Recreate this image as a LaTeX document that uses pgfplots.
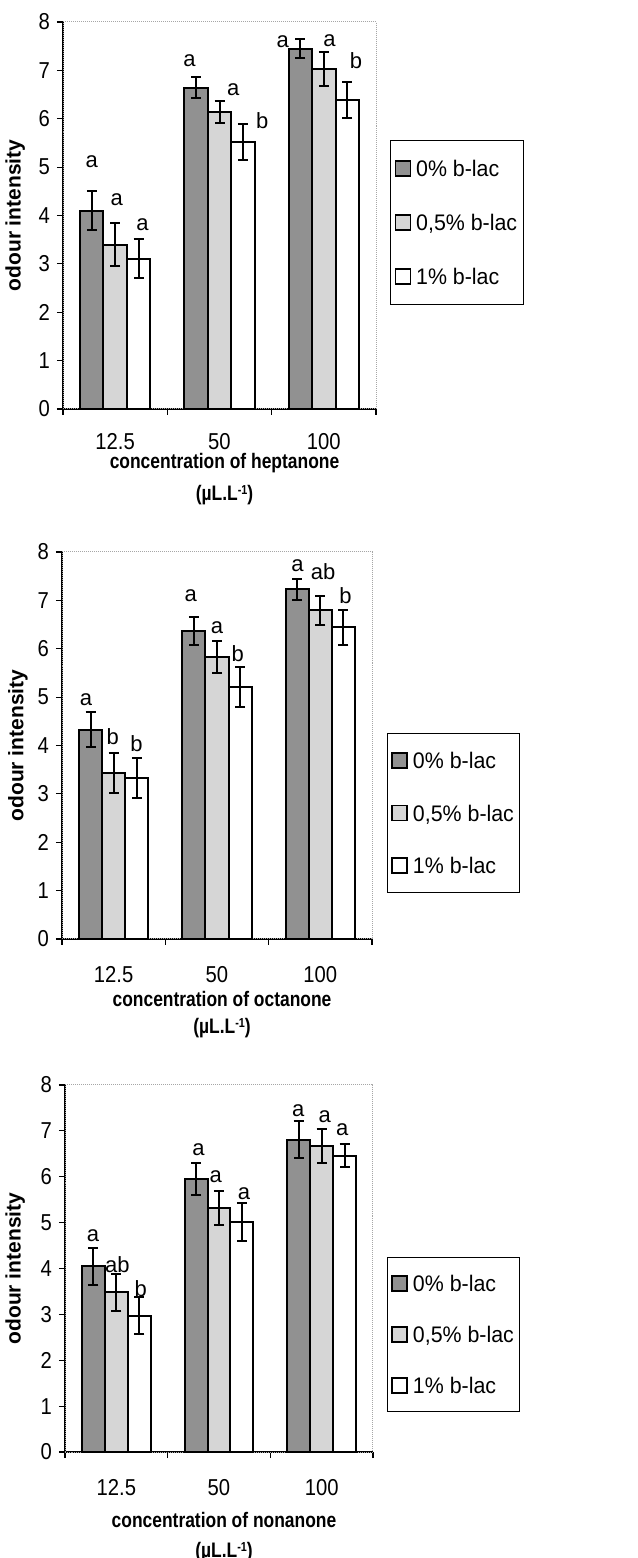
\documentclass[border=0pt]{standalone}
\usepackage{pgfplots}
\pgfplotsset{compat=1.18}
\usepackage{fontspec}
\setmainfont{Liberation Sans}
\newfontfamily\lsC[FakeStretch=0.88]{Liberation Sans}
\newfontfamily\lsX[FakeStretch=0.83]{Liberation Sans}
\newfontfamily\lsL[FakeStretch=0.95]{Liberation Sans}
\definecolor{darkbar}{gray}{0.57}
\definecolor{lightbar}{gray}{0.84}
\newcommand{\unitlab}{(µL.L\raisebox{0.55ex}{\fontsize{13bp}{13bp}\selectfont -1})}
\tikzset{letter/.style={font=\fontsize{22bp}{26bp}\selectfont, inner sep=0pt, anchor=center},
 plotframe/.style={gray!70, line width=1bp, densely dotted}}
\pgfplotsset{
 panel/.style={
  scale only axis, anchor=south west, clip=false,
  ybar, bar width=0.224,
  xmin=-0.5, xmax=2.5, ymin=0, ymax=8,
  ytick={0,1,...,8},
  xtick={-0.5,0.5,1.5,2.5}, xticklabels={},
  extra x ticks={0,1,2}, extra x tick labels={12.5,50,100},
  extra x tick style={major tick length=0pt},
  axis lines*=left,
  axis line style={black, line width=1.2bp},
  tick align=outside,
  major tick length=6bp,
  every tick/.style={black, line width=1.2bp},
  /pgf/number format/assume math mode=true,
  ticklabel style={font=\lsC\fontsize{23bp}{27bp}\selectfont, inner sep=0pt},
  xticklabel style={anchor=center, yshift=-36bp},
  yticklabel style={anchor=east, xshift=-7bp},
  ylabel={odour intensity},
  ylabel style={font=\bfseries\fontsize{21bp}{25bp}\selectfont, at={(axis description cs:-0.153,0.5)}, anchor=center},
  xlabel style={font=\lsX\bfseries\fontsize{21bp}{32bp}\selectfont, align=center, at={(axis description cs:0.5,0)}, anchor=center},
  legend cell align=left,
  legend style={anchor=north west, draw=black, line width=1bp, fill=white,
    font=\lsL\fontsize{22.5bp}{26bp}\selectfont,
    inner xsep=4bp, inner ysep=18bp, row sep=34bp,
    /tikz/every odd column/.append style={column sep=3bp},
    nodes={inner sep=2bp, text height=16bp, text depth=0bp}},
  legend image code/.code={\draw[#1,draw=black,line width=1.6bp] (0bp,-7.5bp) rectangle (15bp,7.5bp);},
 },
 errs/.style={error bars/.cd, y dir=both, y explicit,
   error bar style={line width=2bp, black},
   error mark options={rotate=90, mark size=5bp, line width=2bp, black}},
 s1/.style={fill=darkbar, draw=black, line width=2bp, bar shift=-0.224, errs},
 s2/.style={fill=lightbar, draw=black, line width=2bp, bar shift=0, errs},
 s3/.style={fill=white, draw=black, line width=2bp, bar shift=0.224, errs},
}
\begin{document}
\begin{tikzpicture}
\useasboundingbox (0bp,0bp) rectangle (638bp,1558bp);
% ---------- Panel 1: heptanone ----------
\begin{axis}[panel, at={(63bp,1149bp)}, width=313bp, height=387bp,
  xticklabel style={yshift=3bp},
  xlabel={concentration of heptanone\\\unitlab},
  xlabel style={yshift=-70bp, xshift=5bp},
  legend style={at={(axis description cs:1.045,0.695)}}]
\draw[plotframe] (rel axis cs:0,0) rectangle (rel axis cs:1,1);
\addplot[s1] coordinates {(0,4.10) +- (0,0.40) (1,6.64) +- (0,0.22) (2,7.45) +- (0,0.20)};
\addlegendentry{0\% b-lac}
\addplot[s2] coordinates {(0,3.40) +- (0,0.44) (1,6.14) +- (0,0.22) (2,7.03) +- (0,0.35)};
\addlegendentry{0,5\% b-lac}
\addplot[s3] coordinates {(0,3.11) +- (0,0.40) (1,5.52) +- (0,0.37) (2,6.39) +- (0,0.37)};
\addlegendentry{1\% b-lac}
\node[letter] at (axis cs:-0.224,5.11) {a};
\node[letter] at (axis cs:0.016,4.32) {a};
\node[letter] at (axis cs:0.263,3.80) {a};
\node[letter] at (axis cs:0.712,7.21) {a};
\node[letter] at (axis cs:1.131,6.60) {a};
\node[letter] at (axis cs:1.41,5.96) {b};
\node[letter] at (axis cs:1.606,7.59) {a};
\node[letter] at (axis cs:2.054,7.62) {a};
\node[letter] at (axis cs:2.308,7.21) {b};
\end{axis}
% ---------- Panel 2: octanone ----------
\begin{axis}[panel, at={(62bp,619bp)}, width=310bp, height=387bp,
  xlabel={concentration of octanone\\\unitlab},
  xlabel style={yshift=-76bp, xshift=5bp, font=\lsX\bfseries\fontsize{21bp}{27bp}\selectfont},
  ylabel style={at={(axis description cs:-0.142,0.5)}},
  legend style={at={(axis description cs:1.048,0.532)}, row sep=32.5bp, inner ysep=17bp}]
\draw[plotframe] (rel axis cs:0,0) rectangle (rel axis cs:1,1);
\addplot[s1] coordinates {(0,4.33) +- (0,0.37) (1,6.36) +- (0,0.29) (2,7.23) +- (0,0.22)};
\addlegendentry{0\% b-lac}
\addplot[s2] coordinates {(0,3.43) +- (0,0.42) (1,5.83) +- (0,0.33) (2,6.80) +- (0,0.30)};
\addlegendentry{0,5\% b-lac}
\addplot[s3] coordinates {(0,3.33) +- (0,0.42) (1,5.21) +- (0,0.42) (2,6.44) +- (0,0.37)};
\addlegendentry{1\% b-lac}
\node[letter] at (axis cs:-0.267,4.95) {a};
\node[letter] at (axis cs:-0.01,4.18) {b};
\node[letter] at (axis cs:0.222,4.04) {b};
\node[letter] at (axis cs:0.746,7.10) {a};
\node[letter] at (axis cs:1.0,6.43) {a};
\node[letter] at (axis cs:1.2,5.90) {b};
\node[letter] at (axis cs:1.778,7.72) {a};
\node[letter] at (axis cs:2.026,7.59) {ab};
\node[letter] at (axis cs:2.244,7.10) {b};
\end{axis}
% ---------- Panel 3: nonanone ----------
\begin{axis}[panel, at={(65bp,106bp)}, width=308bp, height=367bp,
  xlabel={concentration of nonanone\\\unitlab},
  xlabel style={yshift=-85bp, xshift=5bp, font=\lsX\bfseries\fontsize{21bp}{30bp}\selectfont},
  ylabel style={at={(axis description cs:-0.162,0.5)}},
  legend style={at={(axis description cs:1.045,0.531)}, row sep=31bp, inner ysep=16bp}]
\draw[plotframe] (rel axis cs:0,0) rectangle (rel axis cs:1,1);
\addplot[s1] coordinates {(0,4.05) +- (0,0.40) (1,5.96) +- (0,0.35) (2,6.81) +- (0,0.40)};
\addlegendentry{0\% b-lac}
\addplot[s2] coordinates {(0,3.48) +- (0,0.40) (1,5.31) +- (0,0.37) (2,6.67) +- (0,0.36)};
\addlegendentry{0,5\% b-lac}
\addplot[s3] coordinates {(0,2.97) +- (0,0.40) (1,5.02) +- (0,0.41) (2,6.46) +- (0,0.25)};
\addlegendentry{1\% b-lac}
\node[letter] at (axis cs:-0.227,4.71) {a};
\node[letter] at (axis cs:0.01,4.09) {ab};
\node[letter] at (axis cs:0.237,3.56) {b};
\node[letter] at (axis cs:0.8,6.58) {a};
\node[letter] at (axis cs:0.968,6.0) {a};
\node[letter] at (axis cs:1.244,5.64) {a};
\node[letter] at (axis cs:1.773,7.45) {a};
\node[letter] at (axis cs:2.03,7.31) {a};
\node[letter] at (axis cs:2.2,7.02) {a};
\end{axis}
\end{tikzpicture}
\end{document}
